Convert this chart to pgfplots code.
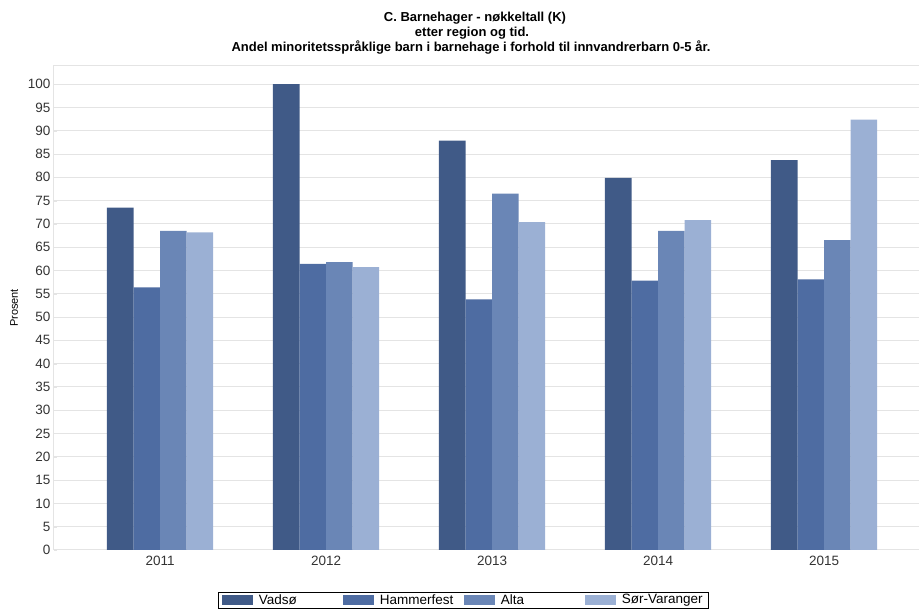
\documentclass[border=0pt]{standalone}
\usepackage{pgfplots}
\pgfplotsset{compat=1.18}
\usepackage{fontspec}
\setmainfont{Liberation Sans}
\definecolor{cVad}{HTML}{405A87}
\definecolor{cHam}{HTML}{4E6CA2}
\definecolor{cAlt}{HTML}{6A86B6}
\definecolor{cSor}{HTML}{9BB0D4}
\definecolor{gridc}{HTML}{E4E4E4}
\definecolor{tickc}{HTML}{333333}
\begin{document}
\begin{tikzpicture}[x=1pt,y=1pt]
\useasboundingbox (0,0) rectangle (919,610);
\node[font=\bfseries\fontsize{13}{15}\selectfont, anchor=center] at (475,592) {C. Barnehager - nøkkeltall (K)};
\node[font=\bfseries\fontsize{13}{15}\selectfont, anchor=center] at (472,577) {etter region og tid.};
\node[font=\bfseries\fontsize{13}{15}\selectfont, anchor=center] at (471,562) {Andel minoritetsspråklige barn i barnehage i forhold til innvandrerbarn 0-5 år.};
\begin{axis}[
  at={(54pt,60pt)}, anchor=south west,
  scale only axis, width=868pt, height=484pt,
  ybar=0pt, bar width=0.16,
  xmin=-0.639, xmax=4.590,
  ymin=0, ymax=103.9,
  xtick={0,1,2,3,4}, xticklabels={2011,2012,2013,2014,2015},
  ytick={0,5,...,100},
  ymajorgrids, grid style={draw=gridc, line width=1pt},
  axis line style={draw=gridc, line width=1pt},
  xtick style={draw=none}, ytick style={draw=gridc},
  ytick pos=left,
  major tick length=3pt,
  tick label style={font=\fontsize{13.5}{15}\selectfont, text=tickc},
  /pgf/number format/assume math mode=true,
  ylabel={Prosent}, ylabel style={font=\fontsize{11}{13}\selectfont, at={(axis description cs:-0.046,0.5)}, anchor=center},
  legend columns=4,
  legend image code/.code={\fill[#1, draw=none] (0pt,-5pt) rectangle (31pt,5pt);},
  legend style={at={(axis description cs:0.4716,-0.1033)}, anchor=center,
    draw=black, line width=0.7pt, fill=white,
    font=\fontsize{13.5}{15}\selectfont, inner xsep=4.5pt, inner ysep=1pt,
    /tikz/every odd column/.append style={column sep=4pt},
    /tikz/every even column/.append style={column sep=0pt},
    nodes={inner sep=1.5pt}},
]
\addplot[fill=cVad, draw=none] coordinates {(0,73.5) (1,100) (2,87.9) (3,79.9) (4,83.7)};
\addlegendentry{\makebox[83pt][l]{Vadsø}}
\addplot[fill=cHam, draw=none] coordinates {(0,56.4) (1,61.4) (2,53.8) (3,57.8) (4,58.1)};
\addlegendentry{\makebox[83pt][l]{Hammerfest}}
\addplot[fill=cAlt, draw=none] coordinates {(0,68.5) (1,61.8) (2,76.5) (3,68.5) (4,66.5)};
\addlegendentry{\makebox[83pt][l]{Alta}}
\addplot[fill=cSor, draw=none] coordinates {(0,68.2) (1,60.7) (2,70.4) (3,70.8) (4,92.4)};
\addlegendentry{Sør-Varanger}
\end{axis}
\end{tikzpicture}
\end{document}
